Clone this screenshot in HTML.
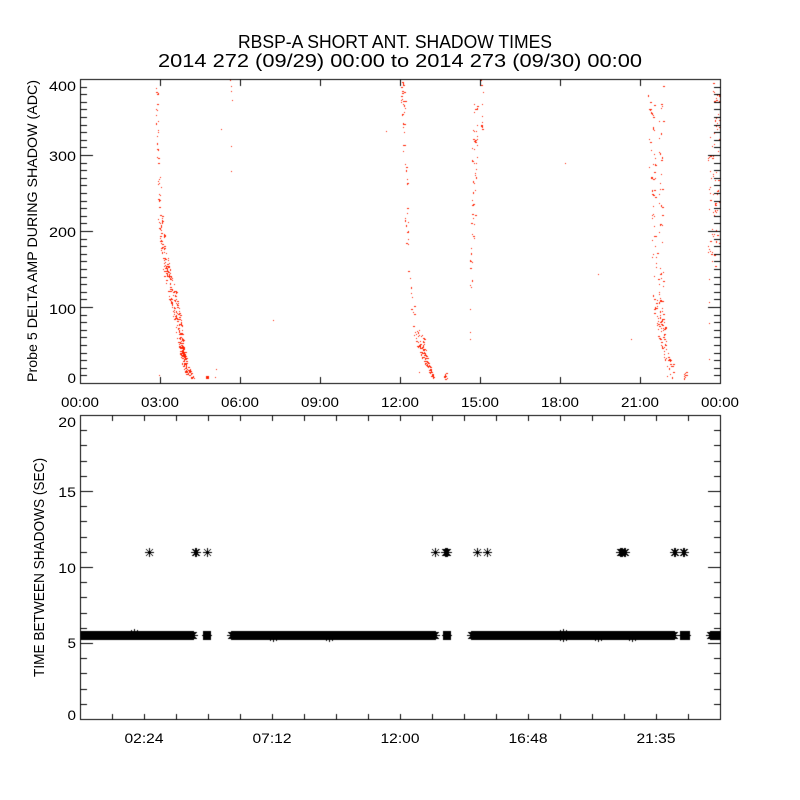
<!DOCTYPE html>
<html><head><meta charset="utf-8">
<style>
html,body{margin:0;padding:0;background:#fff;}
#wrap{position:relative;width:800px;height:800px;overflow:hidden;background:#fff;}
canvas,svg{position:absolute;left:0;top:0;}
text{font-family:"Liberation Sans",sans-serif;fill:#000;}
</style></head><body>
<div id="wrap">
<canvas id="c" width="800" height="800"></canvas>
<svg width="800" height="800" viewBox="0 0 800 800" xmlns="http://www.w3.org/2000/svg">
<text x="238" y="48" font-size="18" textLength="314" lengthAdjust="spacingAndGlyphs">RBSP-A SHORT ANT. SHADOW TIMES</text>
<text x="158" y="67" font-size="18" textLength="484" lengthAdjust="spacingAndGlyphs">2014 272 (09/29) 00:00 to 2014 273 (09/30) 00:00</text>

<g font-size="13.5" text-anchor="end">
<text x="76" y="91" textLength="27" lengthAdjust="spacingAndGlyphs">400</text>
<text x="76" y="161" textLength="27" lengthAdjust="spacingAndGlyphs">300</text>
<text x="76" y="237" textLength="27" lengthAdjust="spacingAndGlyphs">200</text>
<text x="76" y="314" textLength="27" lengthAdjust="spacingAndGlyphs">100</text>
<text x="76" y="383" textLength="8.5" lengthAdjust="spacingAndGlyphs">0</text>
<text x="76" y="427" textLength="17.7" lengthAdjust="spacingAndGlyphs">20</text>
<text x="76" y="497" textLength="17.7" lengthAdjust="spacingAndGlyphs">15</text>
<text x="76" y="573" textLength="17.7" lengthAdjust="spacingAndGlyphs">10</text>
<text x="76" y="648" textLength="8.5" lengthAdjust="spacingAndGlyphs">5</text>
<text x="76" y="720" textLength="8.5" lengthAdjust="spacingAndGlyphs">0</text>
</g>

<g font-size="13.5" text-anchor="middle">
<text x="80" y="407" textLength="38" lengthAdjust="spacingAndGlyphs">00:00</text>
<text x="160" y="407" textLength="38" lengthAdjust="spacingAndGlyphs">03:00</text>
<text x="240" y="407" textLength="38" lengthAdjust="spacingAndGlyphs">06:00</text>
<text x="320" y="407" textLength="38" lengthAdjust="spacingAndGlyphs">09:00</text>
<text x="400" y="407" textLength="38" lengthAdjust="spacingAndGlyphs">12:00</text>
<text x="480" y="407" textLength="38" lengthAdjust="spacingAndGlyphs">15:00</text>
<text x="560" y="407" textLength="38" lengthAdjust="spacingAndGlyphs">18:00</text>
<text x="640" y="407" textLength="38" lengthAdjust="spacingAndGlyphs">21:00</text>
<text x="720" y="407" textLength="38" lengthAdjust="spacingAndGlyphs">00:00</text>

<text x="144" y="743" textLength="39" lengthAdjust="spacingAndGlyphs">02:24</text>
<text x="272" y="743" textLength="39" lengthAdjust="spacingAndGlyphs">07:12</text>
<text x="400" y="743" textLength="39" lengthAdjust="spacingAndGlyphs">12:00</text>
<text x="528" y="743" textLength="39" lengthAdjust="spacingAndGlyphs">16:48</text>
<text x="656" y="743" textLength="39" lengthAdjust="spacingAndGlyphs">21:35</text>
</g>

<text transform="translate(37,382) rotate(-90)" x="0" y="0" font-size="14" textLength="302" lengthAdjust="spacingAndGlyphs">Probe 5 DELTA AMP DURING SHADOW (ADC)</text>
<text transform="translate(44,677) rotate(-90)" x="0" y="0" font-size="14.5" textLength="219" lengthAdjust="spacingAndGlyphs">TIME BETWEEN SHADOWS (SEC)</text>
</svg>
</div>
<script>
(function(){
var c=document.getElementById('c'),g=c.getContext('2d');
function H(x0,x1,y){g.fillRect(x0,y,x1-x0+1,1);}
function V(x,y0,y1){g.fillRect(x,y0,1,y1-y0+1);}
function P(x,y){g.fillRect(x,y,1,1);}
var s=20140929;
function r(){s|=0;s=s+0x6D2B79F5|0;var t=Math.imul(s^s>>>15,1|s);t=t+Math.imul(t^t>>>7,61|t)^t;return((t^t>>>14)>>>0)/4294967296;}
function band(k,n){
  var y0=k[0][0],y1=k[k.length-1][0];
  for(var i=0;i<n;i++){
    var y=y0+r()*(y1-y0);var j=0;
    while(j<k.length-2&&y>k[j+1][0])j++;
    var a=k[j],b=k[j+1],t=(b[0]==a[0])?0:(y-a[0])/(b[0]-a[0]);
    var xc=a[1]+t*(b[1]-a[1]),hw=a[2]+t*(b[2]-a[2]);
    var x=Math.round(xc+(2*r()-1)*hw),yy=Math.round(y);
    if(yy<80)yy=80;if(yy>382)yy=382;
    var q=r();
    if(q<0.25)g.fillRect(x,yy,2,1);else if(q<0.35)g.fillRect(x,yy,1,2);else P(x,yy);
  }
}
/* ---- red scatter, top panel ---- */
g.fillStyle='rgb(255,32,0)';
/* event 1 */
band([[80,157,1],[120,157,1.5],[180,159,1.5],[215,160,1.5]],35);
band([[215,160,2],[235,162,3],[260,165,3.5]],45);
band([[260,165,3.5],[293,172,4.5],[327,179,3.5],[345,181,2.5]],170);
band([[345,181,2.5],[360,184,2.5],[370,187,3.5],[378,191,3.5]],120);
[[230,80],[231,86],[231,91],[232,100],[221,129],[231,146],[231,171],[216,369],[215,377],[159,375],[273,320],[386,131]].forEach(function(p){P(p[0],p[1]);});
g.fillRect(206,376,3,3);
/* event 2 */
band([[80,402,2],[100,403,2]],18);
band([[100,403,2],[200,406,2],[260,408,2],[287,411,1.5],[327,414,1.5]],45);
band([[330,416,3],[340,420,5],[348,422,4],[360,425,2.5],[373,431,1.5],[378,434,1.5]],110);
band([[373,445.5,1.5],[379,445.5,1.5]],12);
P(419,372);
/* event 3 */
band([[80,475,3],[130,475,2.5],[190,474,2.5],[250,472,2],[290,470,1.5]],55);
band([[80,482,1.5],[130,482,1.5]],12);
[[470,309],[470,332],[470,339],[565,163],[598,274],[631,339]].forEach(function(p){P(p[0],p[1]);});
/* event 4 */
band([[87,651,3],[200,653,3],[287,656,3]],55);
band([[80,661,2],[200,661,2],[280,661,2.5],[330,662,2],[353,663,1.5]],45);
band([[293,657,5],[327,660,5],[347,664,2],[360,668,4],[377,671,4]],90);
band([[372,685,1.5],[379,685,1.5]],12);
/* event 5 */
band([[82,716,4],[137,716,4],[160,714,6],[267,714,6]],75);
[[709,279],[709,302],[709,323],[709,359],[710,137]].forEach(function(p){P(p[0],p[1]);});

/* ---- axes ---- */
g.fillStyle='#000';
/* top panel */
H(80,720,79);H(80,720,383);V(80,79,383);V(720,79,383);
for(var v=10;v<400;v+=10){
  var y=Math.round(383-v*0.76),L=(v%100==0)?13:7;
  H(80,80+L-1,y);H(720-L+1,720,y);
}
for(var i=1;i<8;i++){var x=80+80*i;V(x,79,85);V(x,377,383);}
/* bottom panel */
H(80,720,415);H(80,720,719);V(80,415,719);V(720,415,719);
for(var v=1;v<20;v++){
  var y=Math.round(719-v*15.2),L=(v%5==0)?13:7;
  H(80,80+L-1,y);H(720-L+1,720,y);
}
for(var i=1;i<20;i++){var x=80+32*i;V(x,415,420);V(x,714,719);}

/* ---- asterisks ---- */
function star(cx,cy){H(cx-4,cx+4,cy);V(cx,cy-4,cy+4);for(var d=-3;d<=3;d++){P(cx+d,cy+d);P(cx+d,cy-d);}}
g.save();g.beginPath();g.rect(80,416,640,303);g.clip();
function bandS(x0,x1){for(var x=x0+4;x<=x1-4;x++)star(x,635);}
[[76,197],[202,211],[227,439],[442,451],[467,678],[679,690],[706,724]].forEach(function(s){bandS(s[0],s[1]);});
/* short blocks rendered solid */
[[202,211],[442,451],[679,690]].forEach(function(s){g.fillRect(s[0]+1,631,s[1]-s[0]-1,9);star(s[0]+4,635);star(s[1]-4,635);});
[[134,633],[273,637],[329,637],[563,633],[563,637],[598,637],[632,637]].forEach(function(p){star(p[0],p[1]);});
[149,195,196,207,435,445,446,447,477,487,620,621,622,624,625,674,675,683,684].forEach(function(x){star(x,552);});
g.restore();
})();
</script>
</body></html>
